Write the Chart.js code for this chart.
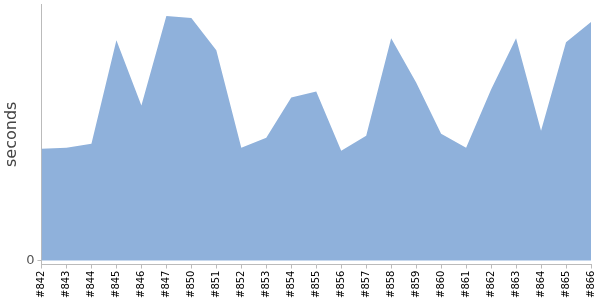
<!DOCTYPE html>
<html>
<head>
<meta charset="utf-8">
<script src="https://cdn.jsdelivr.net/npm/chart.js@4"></script>
<style>
  html, body { margin: 0; padding: 0; background: #fff; }
  #wrap { width: 600px; height: 300px; }
</style>
</head>
<body>
<div id="wrap"><canvas id="buildChart"></canvas></div>
<script>
// build numbers along the x axis
const builds = ['#842', '#843', '#844', '#845', '#846', '#847', '#850', '#851', '#852', '#853', '#854', '#855',
                '#856', '#857', '#858', '#859', '#860', '#861', '#862', '#863', '#864', '#865', '#866'];
// build duration (seconds)
const durations = [11.1, 11.2, 11.6, 21.9, 15.4, 24.3, 24.1, 20.9, 11.2, 12.2, 16.2, 16.8,
                   10.9, 12.4, 22.1, 17.7, 12.6, 11.2, 17.0, 22.1, 12.9, 21.7, 23.7];
const yTicks = [0];
const yTitle = 'seconds';

Chart.defaults.font.family = 'DejaVu Sans';

const ctx = document.getElementById('buildChart').getContext('2d');
const myChart = new Chart(ctx, {
    type: 'line',
    data: {
        labels: builds,
        datasets: [{
            data: durations,
            backgroundColor: 'rgb(143, 177, 219)',
            borderWidth: 0,
            pointRadius: 0,
            fill: { value: 0 },
            tension: 0
        }]
    },
    options: {
        responsive: true,
        maintainAspectRatio: false,
        animation: false,
        plugins: { legend: { display: false }, tooltip: { enabled: false } },
        scales: {
            x: {
                afterFit: axis => { axis.paddingRight = 9; },
                grid: { drawOnChartArea: false, tickLength: 4, color: '#bbb' },
                border: { color: '#bbb' },
                ticks: { color: '#000', font: { size: 10 }, minRotation: 90, maxRotation: 90, autoSkip: false, padding: 2 }
            },
            y: {
                min: -0.4,
                max: 25.5,
                afterBuildTicks: axis => { axis.ticks = yTicks.map(v => ({ value: v })); },
                afterFit: axis => { axis.paddingTop = 4; },
                grid: { drawOnChartArea: false, tickLength: 4, color: '#bbb' },
                border: { color: '#bbb' },
                ticks: { color: '#555', font: { size: 13 }, padding: 3 },
                title: { display: true, text: yTitle, color: '#444', font: { size: 16 }, padding: { top: 2, bottom: 2 } }
            }
        }
    }
});
</script>
</body>
</html>
